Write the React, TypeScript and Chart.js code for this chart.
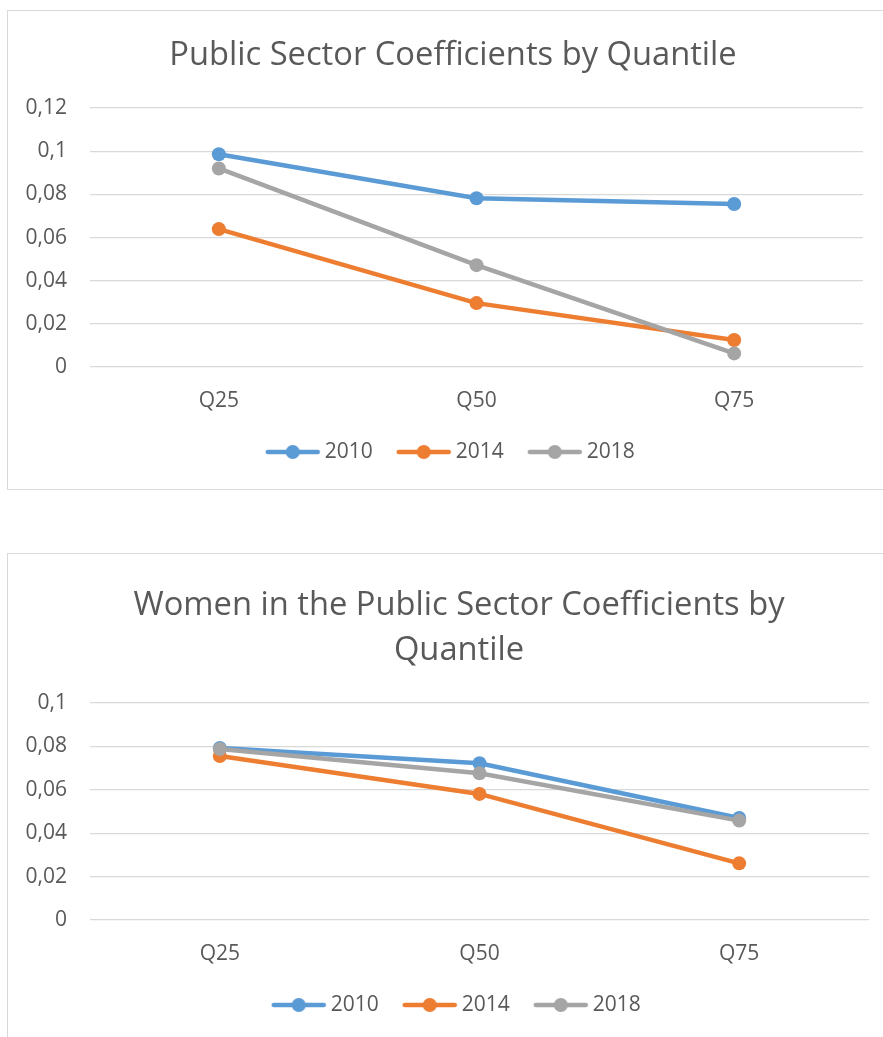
import { useEffect, useRef } from "react";
import { Chart, registerables } from "chart.js";

Chart.register(...registerables);

// Categories, series and axis labels
const quantiles = ["Q25", "Q50", "Q75"];
const seriesYears = ["2010", "2014", "2018"];

const publicSector2010 = [0.0986, 0.0782, 0.0755];
const publicSector2014 = [0.0639, 0.0296, 0.0125];
const publicSector2018 = [0.092, 0.0472, 0.0063];
const publicTickLabels = ["0", "0,02", "0,04", "0,06", "0,08", "0,1", "0,12"];

const women2010 = [0.0793, 0.0722, 0.047];
const women2014 = [0.0756, 0.0581, 0.0261];
const women2018 = [0.0788, 0.0676, 0.0458];
const womenTickLabels = ["0", "0,02", "0,04", "0,06", "0,08", "0,1"];

const TEXT = "#595959";
const GRID = "#d9d9d9";
const COLORS = ["#5b9bd5", "#ed7d31", "#a5a5a5"];
const FONT = "'Open Sans', sans-serif";

// Legend swatch: a line segment with a round marker in its middle
function legendSwatch(color: string): HTMLCanvasElement {
  const c = document.createElement("canvas");
  c.width = 56;
  c.height = 16;
  const ctx = c.getContext("2d")!;
  ctx.strokeStyle = color;
  ctx.lineWidth = 4.5;
  ctx.lineCap = "round";
  ctx.beginPath();
  ctx.moveTo(3, 8);
  ctx.lineTo(53, 8);
  ctx.stroke();
  ctx.fillStyle = color;
  ctx.beginPath();
  ctx.arc(28, 8, 7, 0, Math.PI * 2);
  ctx.fill();
  return c;
}

type ChartProps = {
  title: string | string[];
  series: number[][];
  max: number;
  tickLabels: string[];
  width: number;
  height: number;
  gutter: number;
  padBottom: number;
  titleLineHeight: number;
  titlePadTop: number;
  titlePadBottom: number;
};

const Y_AXIS_WIDTH = 82;
const X_AXIS_HEIGHT = 45;

function LineChart(props: ChartProps) {
  const ref = useRef<HTMLCanvasElement>(null);

  useEffect(() => {
    const swatches = COLORS.map(legendSwatch);
    const chart = new Chart(ref.current!, {
      type: "line",
      data: {
        labels: quantiles,
        datasets: props.series.map((values, i) => ({
          label: seriesYears[i],
          data: values,
          borderColor: COLORS[i],
          backgroundColor: COLORS[i],
          borderWidth: 4.5,
          pointRadius: 7,
          pointHoverRadius: 7,
          pointBorderWidth: 0,
          pointBackgroundColor: COLORS[i],
          tension: 0,
          order: props.series.length - i,
        })),
      },
      options: {
        responsive: false,
        animation: false,
        layout: {
          padding: { left: 0, right: 0, top: 0, bottom: props.padBottom },
        },
        scales: {
          x: {
            offset: true,
            grid: { display: false, drawTicks: false },
            border: { display: false },
            ticks: { color: TEXT, padding: 21, font: { family: FONT, size: 21 } },
            afterFit: (s: any) => {
              s.height = X_AXIS_HEIGHT;
            },
          },
          y: {
            min: 0,
            max: props.max,
            ticks: {
              stepSize: 0.02,
              color: TEXT,
              padding: 23,
              font: { family: FONT, size: 21 },
              callback: (_v: any, i: number) => props.tickLabels[i],
            },
            grid: { color: GRID, lineWidth: 1.2, drawTicks: false },
            border: { display: false },
            afterFit: (s: any) => {
              s.width = Y_AXIS_WIDTH;
            },
          },
          // empty gutter on the right of the plot area
          gutter: {
            type: "linear",
            position: "right",
            display: true,
            ticks: { display: false },
            grid: { display: false, drawTicks: false },
            border: { display: false },
            afterFit: (s: any) => {
              s.width = props.gutter;
            },
          },
        },
        plugins: {
          title: {
            display: true,
            text: props.title,
            color: TEXT,
            font: { family: FONT, size: 32.7, weight: "normal", lineHeight: props.titleLineHeight },
            padding: { top: props.titlePadTop, bottom: props.titlePadBottom },
          },
          legend: {
            position: "bottom",
            labels: {
              usePointStyle: true,
              pointStyleWidth: 43,
              padding: 29.5,
              color: TEXT,
              font: { family: FONT, size: 21 },
              sort: (a: any, b: any) => a.datasetIndex - b.datasetIndex,
              generateLabels: (c: any) =>
                Chart.defaults.plugins.legend.labels
                  .generateLabels(c)
                  .map((item: any) => ({ ...item, pointStyle: swatches[item.datasetIndex] })),
            },
          },
          tooltip: { enabled: false },
        },
      } as any,
    });
    return () => chart.destroy();
  }, []);

  return (
    <canvas
      ref={ref}
      width={props.width}
      height={props.height}
      style={{ display: "block", width: props.width, height: props.height }}
    />
  );
}

const boxStyle = (top: number, height: number): React.CSSProperties => ({
  position: "absolute",
  left: 7,
  top,
  width: 920,
  height,
  border: `1px solid ${GRID}`,
  boxSizing: "border-box",
  background: "#fff",
});

export default function App() {
  return (
    <div
      style={{
        position: "absolute",
        left: 0,
        top: 0,
        width: 883,
        height: 1037,
        overflow: "hidden",
        background: "#fff",
      }}
    >
      <div style={boxStyle(10, 480)}>
        <LineChart
          title="Public Sector Coefficients by Quantile"
          series={[publicSector2010, publicSector2014, publicSector2018]}
          max={0.12}
          tickLabels={publicTickLabels}
          width={890}
          height={478}
          gutter={35}
          padBottom={16.5}
          titleLineHeight={1.2}
          titlePadTop={25.5}
          titlePadBottom={32.3}
        />
      </div>
      <div style={boxStyle(553, 560)}>
        <LineChart
          title={["Women in the Public Sector Coefficients by", "Quantile"]}
          series={[women2010, women2014, women2018]}
          max={0.1}
          tickLabels={womenTickLabels}
          width={902}
          height={500}
          gutter={41}
          padBottom={28.5}
          titleLineHeight={1.376}
          titlePadTop={29}
          titlePadBottom={30}
        />
      </div>
    </div>
  );
}
